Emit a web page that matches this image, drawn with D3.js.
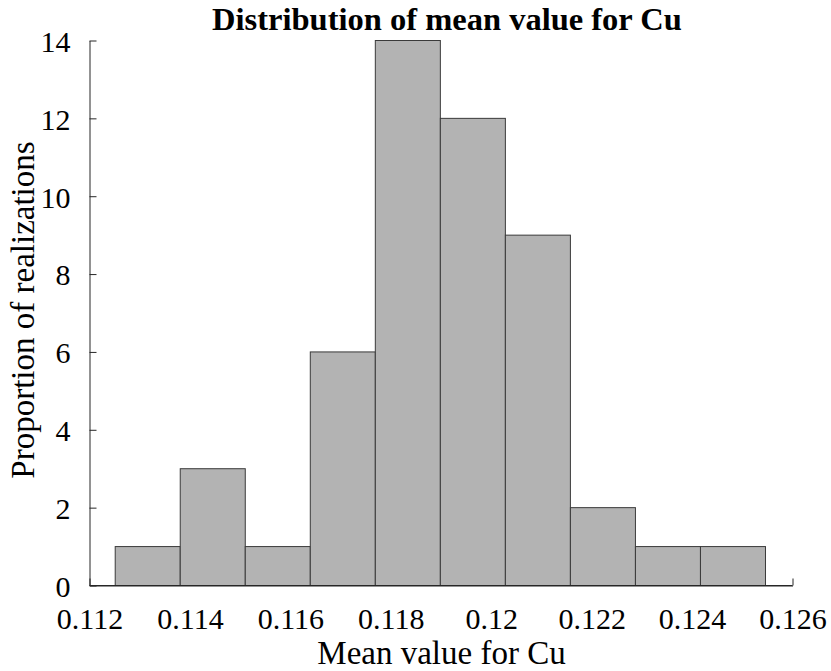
<!DOCTYPE html>
<html>
<head>
<meta charset="utf-8">
<script src="https://cdn.jsdelivr.net/npm/d3@7"></script>
<style>
  html, body { margin: 0; padding: 0; background: #fff; }
  svg { display: block; }
  text { font-family: "Liberation Serif", "Times New Roman", Times, serif; fill: #000; }
</style>
</head>
<body>
<svg id="chart" width="831" height="671"></svg>
<script>
// Histogram bin edges (Cu mean value) and realization counts per bin
const binEdges = [0.112512, 0.113807, 0.115102, 0.116397, 0.117692, 0.118987,
                  0.120282, 0.121577, 0.122872, 0.124167, 0.125462];
const counts = [1, 3, 1, 6, 14, 12, 9, 2, 1, 1];

const xTicks = [0.112, 0.114, 0.116, 0.118, 0.120, 0.122, 0.124, 0.126];
const xTickLabels = ["0.112", "0.114", "0.116", "0.118", "0.12", "0.122", "0.124", "0.126"];
const yTicks = [0, 2, 4, 6, 8, 10, 12, 14];
const yTickLabels = ["0", "2", "4", "6", "8", "10", "12", "14"];

const titleText = "Distribution of mean value for Cu";
const xLabel = "Mean value for Cu";
const yLabel = "Proportion of realizations";

const svg = d3.select("#chart");

const x = d3.scaleLinear().domain([0.112, 0.126]).range([89.5, 792.5]);
const y = d3.scaleLinear().domain([0, 14]).range([585.5, 40.5]);

const axisColor = "#262626";
const tickLen = 7;

// Axes (ticks pointing inward)
const yAxis = d3.axisLeft(y).tickValues(yTicks)
  .tickFormat((d, i) => yTickLabels[i])
  .tickSizeInner(-tickLen).tickSizeOuter(0).tickPadding(19);
const xAxis = d3.axisBottom(x).tickValues(xTicks)
  .tickFormat((d, i) => xTickLabels[i])
  .tickSizeInner(-tickLen).tickSizeOuter(0).tickPadding(22);

const gx = svg.append("g").attr("transform", `translate(0,${y(0)})`).call(xAxis);
const gy = svg.append("g").attr("transform", `translate(${x(0.112)},0)`).call(yAxis);

[gx, gy].forEach(g => {
  g.select(".domain").attr("stroke", axisColor).attr("stroke-width", 1);
  g.selectAll(".tick line").attr("stroke", axisColor).attr("stroke-width", 1);
  g.selectAll(".tick text")
    .style("font-family", '"Liberation Serif", "Times New Roman", serif')
    .style("font-size", "30px").attr("fill", "#000");
});
gx.selectAll(".tick text").attr("dy", "0.71em");
gy.selectAll(".tick text").attr("dy", "0.36em");

// Histogram bars
svg.append("g").selectAll("rect")
  .data(counts)
  .join("rect")
  .attr("x", (d, i) => x(binEdges[i]))
  .attr("width", (d, i) => x(binEdges[i + 1]) - x(binEdges[i]))
  .attr("y", d => y(d))
  .attr("height", d => y(0) - y(d))
  .attr("fill", "#b3b3b3")
  .attr("stroke", "#3a3a3a")
  .attr("stroke-width", 1);

// Baseline redrawn over the bars
svg.append("line")
  .attr("x1", x(0.112)).attr("x2", x(0.126))
  .attr("y1", y(0)).attr("y2", y(0))
  .attr("stroke", axisColor).attr("stroke-width", 1);

// Title and axis labels
svg.append("text")
  .attr("x", 447).attr("y", 29.5)
  .attr("text-anchor", "middle")
  .style("font-size", "32.5px").style("font-weight", "bold")
  .text(titleText);

svg.append("text")
  .attr("x", 441.5).attr("y", 663.5)
  .attr("text-anchor", "middle")
  .style("font-size", "33px")
  .text(xLabel);

svg.append("text")
  .attr("transform", "translate(34,310) rotate(-90)")
  .attr("text-anchor", "middle")
  .style("font-size", "33px")
  .text(yLabel);
</script>
</body>
</html>
